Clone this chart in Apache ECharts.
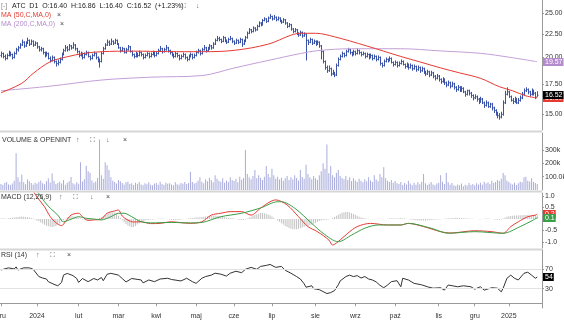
<!DOCTYPE html>
<html>
<head>
<meta charset="utf-8">
<script src="https://cdn.jsdelivr.net/npm/echarts@6/dist/echarts.min.js"></script>
<style>
html,body{margin:0;padding:0;background:#fff}
#chart{width:564px;height:322px}
</style>
</head>
<body>
<div id="chart"></div>
<script>
// ---- session calendar (GPW) ----
const firstDay = '2023-12-01';
const lastDay = '2025-01-24';
const holidays = ['2023-12-25','2023-12-26','2024-01-01','2024-03-29','2024-04-01','2024-05-01','2024-05-03',
  '2024-05-30','2024-08-15','2024-11-01','2024-11-11','2024-12-24','2024-12-25','2024-12-26','2024-12-31',
  '2025-01-01','2025-01-06'];
const monthNames = ['sty','lut','mar','kwi','maj','cze','lip','sie','wrz','paź','lis','gru'];

// ---- ATC daily bars: [open, high, low, close] ----
const ohlc = [
  [20.2,20.6,20.0,20.4],[20.4,20.5,19.9,20.1],[20.1,20.3,19.7,19.9],[19.9,20.4,19.8,20.2],[20.2,20.7,20.1,20.5],
  [20.5,20.6,20.1,20.3],[20.3,20.4,19.8,20.0],[20.0,20.6,19.9,20.4],[20.4,21.0,20.3,20.8],[20.8,21.2,20.6,21.0],
  // 10
  [21.0,21.5,20.9,21.3],[21.3,21.9,21.2,21.6],[21.6,21.7,21.0,21.2],[21.2,21.7,21.1,21.5],[21.5,22.1,21.4,21.8],
  [21.8,21.9,21.2,21.4],[21.4,21.9,21.3,21.7],[21.7,21.8,21.1,21.3],[21.3,21.7,21.2,21.5],[21.5,21.6,20.9,21.1],
  // 20
  [21.1,21.2,20.6,20.8],[20.8,21.1,20.6,20.9],[20.9,21.0,20.3,20.5],[20.5,20.6,20.0,20.2],[20.2,20.6,20.1,20.4],
  [20.4,20.5,19.8,19.9],[19.9,20.1,19.5,19.7],[19.7,20.2,19.6,20.0],[20.0,20.1,19.4,19.6],[19.6,19.7,19.1,19.4],
  // 30
  [19.4,19.8,19.2,19.5],[19.5,20.0,19.4,19.8],[19.8,20.5,19.7,20.3],[20.3,20.9,20.2,20.7],[20.7,21.3,20.6,21.0],
  [21.0,21.2,20.6,20.8],[20.8,21.4,20.7,21.2],[21.2,21.3,20.8,21.0],[21.0,21.6,20.9,21.3],[21.3,21.4,20.7,20.9],
  // 40
  [20.9,21.0,20.4,20.6],[20.6,20.7,20.0,20.2],[20.2,20.6,20.1,20.4],[20.4,20.5,19.8,20.0],[20.0,20.5,19.9,20.3],
  [20.3,20.7,20.2,20.5],[20.5,20.6,20.0,20.1],[20.1,20.2,19.7,19.9],[19.9,20.4,19.8,20.2],[20.2,20.6,20.1,20.4],
  // 50
  [20.4,20.5,19.8,20.0],[20.0,20.1,19.5,19.7],[19.7,19.9,19.0,19.6],[19.6,20.6,19.5,20.4],[20.4,21.1,20.3,20.9],
  [20.9,21.5,20.8,21.3],[21.3,21.9,21.2,21.6],[21.6,21.8,21.2,21.4],[21.4,22.0,21.3,21.7],[21.7,21.8,21.3,21.5],
  // 60
  [21.5,22.0,21.4,21.8],[21.8,21.9,21.3,21.4],[21.4,21.5,20.9,21.0],[21.0,21.1,20.5,20.7],[20.7,21.1,20.6,20.9],
  [20.9,21.0,20.4,20.5],[20.5,21.0,20.4,20.8],[20.8,21.3,20.7,21.1],[21.1,21.2,20.5,20.6],[20.6,20.7,20.1,20.3],
  // 70
  [20.3,20.4,19.9,20.1],[20.1,20.6,20.0,20.4],[20.4,20.5,20.0,20.2],[20.2,20.7,20.1,20.5],[20.5,20.6,20.1,20.3],
  [20.3,20.4,19.8,20.0],[20.0,20.4,19.9,20.2],[20.2,20.6,20.1,20.4],[20.4,20.5,19.9,20.1],[20.1,20.5,20.0,20.3],
  // 80
  [20.3,20.7,20.2,20.5],[20.5,20.6,20.0,20.2],[20.2,20.6,20.1,20.4],[20.4,20.9,20.3,20.7],[20.7,21.2,20.6,20.9],
  [20.9,21.0,20.4,20.6],[20.6,21.0,20.5,20.8],[20.8,21.3,20.7,21.0],[21.0,21.1,20.5,20.7],[20.7,20.8,20.3,20.5],
  // 90
  [20.5,20.6,20.1,20.3],[20.3,20.4,19.9,20.1],[20.1,20.6,20.0,20.4],[20.4,20.5,20.0,20.2],[20.2,20.3,19.7,19.9],
  [19.9,20.3,19.8,20.1],[20.1,20.5,20.0,20.3],[20.3,20.4,19.8,20.0],[20.0,20.1,19.6,19.8],[19.8,20.3,19.7,20.1],
  // 100
  [20.1,20.5,20.0,20.3],[20.3,20.4,19.8,20.0],[20.0,20.4,19.9,20.2],[20.2,20.7,20.1,20.5],[20.5,20.9,20.4,20.7],
  [20.7,20.8,20.2,20.4],[20.4,21.0,20.3,20.8],[20.8,21.3,20.7,21.0],[21.0,21.1,20.5,20.7],[20.7,21.1,20.6,20.9],
  // 110
  [20.9,21.4,20.8,21.2],[21.2,21.3,20.8,21.0],[21.0,21.6,20.9,21.4],[21.4,22.0,21.3,21.8],[21.8,22.3,21.7,22.0],
  [22.0,22.2,21.7,21.9],[21.9,22.0,21.5,21.7],[21.7,22.3,21.6,22.1],[22.1,22.2,21.6,21.8],[21.8,21.9,21.4,21.6],
  // 120
  [21.6,22.1,21.5,21.9],[21.9,22.3,21.8,22.0],[22.0,22.1,21.5,21.7],[21.7,21.8,21.3,21.5],[21.5,22.0,21.4,21.8],
  [21.8,21.9,21.4,21.6],[21.6,22.1,21.5,21.9],[21.9,22.0,21.1,21.4],[21.4,21.9,21.3,21.7],[21.7,22.3,21.6,22.1],
  // 130
  [22.1,22.8,22.0,22.6],[22.6,23.2,22.5,23.0],[23.0,23.1,22.6,22.8],[22.8,23.4,22.7,23.2],[23.2,23.3,22.8,23.0],
  [23.0,23.6,22.9,23.4],[23.4,24.0,23.3,23.8],[23.8,23.9,23.4,23.6],[23.6,24.3,23.5,24.1],[24.1,24.5,24.0,24.3],
  // 140
  [24.3,24.4,23.8,24.0],[24.0,24.6,23.9,24.4],[24.4,24.9,24.3,24.6],[24.6,24.7,24.1,24.3],[24.3,24.8,24.2,24.5],
  [24.5,24.6,24.0,24.2],[24.2,24.6,24.1,24.4],[24.4,24.5,23.9,24.1],[24.1,24.2,23.7,23.9],[23.9,24.4,23.8,24.2],
  // 150
  [24.2,24.3,23.6,23.8],[23.8,23.9,23.2,23.4],[23.4,23.8,23.3,23.6],[23.6,23.7,22.9,23.1],[23.1,23.2,22.6,22.8],
  [22.8,23.2,22.7,23.0],[23.0,23.1,22.4,22.6],[22.6,22.7,22.2,22.4],[22.4,22.9,22.3,22.7],[22.7,22.8,22.1,22.3],
  // 160
  [22.3,22.7,22.2,22.5],[22.5,22.6,19.7,21.8],[21.8,21.9,21.3,21.6],[21.6,22.1,21.5,21.9],[21.9,22.0,21.3,21.5],
  [21.5,21.9,21.4,21.7],[21.7,21.8,21.2,21.4],[21.4,21.8,21.3,21.6],[21.6,21.7,21.0,21.2],[21.2,21.3,19.8,20.6],
  // 170
  [20.6,20.7,19.4,19.6],[19.6,19.7,18.8,19.0],[19.0,19.2,18.5,18.7],[18.7,19.2,18.6,18.9],[18.9,19.0,18.2,18.4],
  [18.4,18.8,18.3,18.5],[18.5,18.6,18.1,18.3],[18.3,19.4,18.2,19.2],[19.2,20.0,19.1,19.8],[19.8,20.3,19.7,20.1],
  // 180
  [20.1,20.6,20.0,20.4],[20.4,20.5,20.0,20.2],[20.2,20.8,20.1,20.6],[20.6,21.0,20.5,20.8],[20.8,20.9,20.3,20.5],
  [20.5,20.6,20.1,20.3],[20.3,20.8,20.2,20.6],[20.6,20.7,20.2,20.4],[20.4,20.9,20.3,20.7],[20.7,20.8,20.3,20.5],
  // 190
  [20.5,20.6,20.1,20.3],[20.3,20.6,20.2,20.4],[20.4,20.5,19.9,20.1],[20.1,20.5,20.0,20.3],[20.3,20.4,19.8,20.0],
  [20.0,20.4,19.9,20.2],[20.2,20.3,19.7,19.9],[19.9,20.3,19.8,20.1],[20.1,20.2,19.6,19.8],[19.8,20.2,19.7,20.0],
  // 200
  [20.0,20.1,19.2,19.4],[19.4,19.5,19.0,19.2],[19.2,19.8,19.1,19.6],[19.6,20.0,19.5,19.8],[19.8,19.9,19.5,19.7],
  [19.7,20.1,19.6,19.9],[19.9,20.0,19.4,19.5],[19.5,19.6,19.1,19.3],[19.3,19.7,19.2,19.5],[19.5,19.6,19.0,19.2],
  // 210
  [19.2,19.6,19.1,19.4],[19.4,19.8,19.3,19.6],[19.6,19.7,19.2,19.3],[19.3,19.4,18.9,19.1],[19.1,19.5,19.0,19.3],
  [19.3,19.4,18.8,19.0],[19.0,19.4,18.9,19.2],[19.2,19.3,18.7,18.9],[18.9,19.3,18.8,19.1],[19.1,19.2,18.6,18.8],
  // 220
  [18.8,19.2,18.7,19.0],[19.0,19.1,18.5,18.7],[18.7,19.1,18.6,18.9],[18.9,19.0,18.4,18.6],[18.6,18.7,18.2,18.4],
  [18.4,18.8,18.3,18.6],[18.6,18.7,18.1,18.3],[18.3,18.7,18.2,18.5],[18.5,18.6,18.0,18.2],[18.2,18.3,17.8,18.0],
  // 230
  [18.0,18.4,17.9,18.2],[18.2,18.3,17.7,17.9],[17.9,18.0,17.5,17.7],[17.7,18.1,17.6,17.9],[17.9,18.0,17.4,17.6],
  [17.6,17.7,17.2,17.4],[17.4,17.8,17.3,17.6],[17.6,17.7,17.1,17.3],[17.3,17.7,17.2,17.5],[17.5,17.6,17.0,17.2],
  // 240
  [17.2,17.3,16.8,17.0],[17.0,17.4,16.9,17.2],[17.2,17.3,16.8,16.9],[16.9,17.3,16.8,17.1],[17.1,17.2,16.7,16.8],
  [16.8,16.9,16.4,16.6],[16.6,17.0,16.5,16.9],[16.9,17.0,16.5,16.7],[16.7,16.8,16.3,16.5],[16.5,16.6,16.1,16.3],
  // 250
  [16.3,16.6,16.2,16.4],[16.4,16.5,16.0,16.2],[16.2,16.3,15.8,16.0],[16.0,16.4,15.9,16.2],[16.2,16.3,15.8,15.9],
  [15.9,16.0,15.5,15.7],[15.7,16.1,15.6,15.9],[15.9,16.0,15.5,15.6],[15.6,15.9,15.5,15.8],[15.8,15.9,15.3,15.5],
  // 260
  [15.5,15.6,15.1,15.3],[15.3,15.4,14.9,15.1],[15.1,15.2,14.7,14.9],[14.9,15.1,14.6,14.8],[14.8,15.2,14.7,15.0],
  [15.0,16.1,14.9,15.9],[15.9,16.9,15.8,16.6],[16.6,17.2,16.5,16.8],[16.8,16.9,16.3,16.4],[16.4,16.5,16.0,16.1],
  // 270
  [16.1,16.3,15.8,16.0],[16.0,16.4,15.9,16.2],[16.2,16.3,15.8,15.9],[15.9,16.3,15.8,16.1],[16.1,16.5,16.0,16.3],
  [16.3,16.8,16.2,16.6],[16.6,17.1,16.5,16.9],[16.9,17.2,16.8,17.0],[17.0,17.1,16.6,16.8],[16.8,16.9,16.4,16.6],
  // 280
  [16.6,17.1,16.5,16.9],[16.9,17.0,16.5,16.7],[16.7,16.8,16.2,16.32],[16.40,16.86,16.40,16.52]
];

// ---- moving averages: [session index, value] ----
const ma50 = [[0,16.73],[11,17.55],[17,18.45],[26,19.57],[35,20.07],[44,20.42],[53,20.59],[70,20.65],[88,20.6],
  [106,20.59],[123,20.73],[141,21.39],[153,22.38],[158,22.6],[166,22.6],[176,22.2],[193,21.2],[211,20.1],
  [221,19.56],[232,18.97],[242,18.5],[253,18.0],[263,17.25],[270,16.9],[277,16.47],[283,16.3]];
const ma200 = [[0,16.9],[26,17.3],[53,17.84],[79,18.1],[106,18.25],[123,18.96],[141,19.7],[158,20.4],[167,20.7],
  [185,20.9],[211,20.9],[232,20.67],[253,20.42],[269,20.0],[283,19.57]];

// ---- volume, thousands of shares ----
const volume = [
  45,38,52,60,41,35,48,70,276,95, 62,116,58,44,80,66,52,40,55,47,
  60,72,50,43,65,88,56,124,70,45, 52,61,48,75,40,55,66,98,50,42,
  58,47,208,63,80,182,140,130,72,55, 64,90,378,110,85,208,185,149,95,70,
  60,48,75,66,52,40,58,62,45,50, 38,55,47,60,42,36,50,44,58,40,
  35,48,52,40,62,45,38,55,47,50, 42,36,58,44,40,53,47,60,45,52,
  136,60,48,55,70,95,62,50,80,66, 92,75,58,110,85,70,62,88,54,72,
  60,95,75,68,82,58,100,76,90,300, 120,95,80,105,150,88,110,92,75,100,
  180,120,95,160,110,85,100,78,92,70, 88,105,75,95,80,110,90,72,150,98,
  85,190,120,95,80,105,88,75,110,140, 200,160,340,125,180,110,95,130,150,105,
  90,80,105,75,95,68,88,72,60,85, 70,58,80,65,95,72,60,110,78,66,
  120,95,170,88,70,60,75,55,68,50, 45,60,38,52,42,70,48,35,55,40,
  58,44,62,120,50,38,46,60,42,35, 48,55,110,62,45,130,58,40,52,36,
  30,42,35,48,28,40,33,52,38,45, 36,50,42,55,40,62,48,58,45,70,
  55,60,75,68,85,128,110,72,60,48, 42,55,38,50,62,58,95,100,70,64,
  88,60,52,45
];

// ---- MACD (12,26,9) ----
const macdLine = [[0,1.5],[5,1.48],[11,1.45],[16,1.3],[19,0.96],[23,0.53],[26,0.1],[29,-0.16],[32,-0.29],[34,-0.12],
  [37,0.17],[41,0.25],[43,0.1],[46,-0.06],[49,-0.04],[53,0.0],[56,0.25],[60,0.35],[62,0.39],[64,0.13],[67,-0.05],
  [70,-0.13],[74,-0.12],[79,-0.2],[84,-0.19],[90,-0.12],[95,-0.16],[100,-0.19],[106,-0.12],[111,0.17],[116,0.25],
  [121,0.32],[127,0.32],[132,0.17],[137,0.47],[142,0.75],[145,0.83],[151,0.61],[157,0.1],[162,-0.33],[167,-0.55],
  [173,-0.91],[175,-1.13],[179,-0.91],[183,-0.62],[188,-0.33],[195,-0.19],[204,-0.26],[211,-0.26],[215,-0.19],
  [223,-0.33],[232,-0.55],[237,-0.61],[250,-0.51],[259,-0.55],[265,-0.62],[269,-0.33],[273,-0.12],[278,0.1],
  [282,0.17],[283,0.22]];
const signalLine = [[0,1.42],[5,1.42],[11,1.38],[16,1.3],[19,1.2],[23,0.75],[26,0.47],[30,0.17],[33,-0.12],[37,-0.01],
  [41,0.1],[45,0.03],[49,0.0],[53,-0.04],[58,0.1],[62,0.25],[65,0.25],[69,0.1],[74,-0.12],[79,-0.17],[90,-0.15],
  [100,-0.17],[106,-0.15],[116,0.1],[127,0.25],[137,0.48],[146,0.75],[148,0.75],[155,0.47],[164,-0.19],[170,-0.62],
  [178,-0.99],[185,-0.7],[192,-0.4],[199,-0.26],[211,-0.26],[215,-0.19],[227,-0.4],[236,-0.62],[250,-0.55],
  [265,-0.62],[274,-0.33],[281,-0.04],[283,0.06]];
const macdHist = [
  0.02,0.03,0.02,0.01,0.03,0.04,0.05,0.06,0.08,0.09, 0.1,0.11,0.1,0.09,0.08,0.06,0.04,0.02,-0.02,-0.06,
  -0.1,-0.15,-0.2,-0.25,-0.29,-0.32,-0.34,-0.35,-0.34,-0.3, -0.25,-0.19,-0.12,-0.05,0.02,0.07,0.1,0.12,0.12,0.1,
  0.08,0.05,0.02,-0.01,-0.03,-0.04,-0.04,-0.03,-0.02,-0.01, 0.0,0.02,0.04,0.08,0.13,0.18,0.22,0.26,0.28,0.29,
  0.27,0.22,0.14,0.05,-0.05,-0.14,-0.22,-0.28,-0.33,-0.36, -0.35,-0.3,-0.24,-0.18,-0.13,-0.09,-0.06,-0.04,-0.03,-0.02,
  -0.02,-0.01,0.0,0.01,0.02,0.02,0.01,0.0,-0.01,-0.02, -0.03,-0.04,-0.04,-0.03,-0.03,-0.02,-0.01,0.0,0.01,0.02,
  0.03,0.04,0.05,0.06,0.07,0.08,0.09,0.1,0.11,0.12, 0.13,0.14,0.15,0.15,0.14,0.13,0.12,0.1,0.08,0.06,
  0.05,0.04,0.03,0.02,0.0,-0.02,-0.03,-0.04,-0.03,-0.01, 0.02,0.06,0.1,0.14,0.18,0.21,0.24,0.26,0.26,0.25,
  0.23,0.2,0.16,0.11,0.05,0.0,-0.06,-0.12,-0.18,-0.24, -0.3,-0.35,-0.39,-0.42,-0.44,-0.45,-0.44,-0.42,-0.4,-0.37,
  -0.34,-0.32,-0.3,-0.27,-0.24,-0.2,-0.16,-0.12,-0.09,-0.06, -0.04,-0.03,-0.03,-0.02,0.0,0.04,0.09,0.14,0.19,0.23,
  0.27,0.29,0.3,0.3,0.28,0.25,0.22,0.18,0.14,0.1, 0.07,0.05,0.03,0.02,0.01,0.0,-0.01,-0.01,0.0,0.01,
  0.01,0.0,-0.01,0.0,0.01,0.02,0.03,0.03,0.02,0.02, 0.03,0.04,0.03,0.02,0.01,0.0,-0.02,-0.03,-0.04,-0.05,
  -0.06,-0.06,-0.07,-0.07,-0.06,-0.05,-0.05,-0.04,-0.03,-0.03, -0.02,-0.02,-0.01,0.0,0.01,0.02,0.03,0.03,0.04,0.04,
  0.05,0.05,0.04,0.04,0.03,0.03,0.02,0.02,0.01,0.01, 0.0,0.0,-0.01,-0.01,0.0,0.01,0.02,0.02,0.01,0.0,
  -0.01,-0.02,-0.03,-0.03,-0.02,0.02,0.06,0.1,0.12,0.13, 0.14,0.15,0.15,0.15,0.16,0.16,0.17,0.17,0.17,0.16,
  0.16,0.17,0.17,0.16
];

// ---- RSI (14) ----
const rsi = [[0,68.6],[4,73],[7,70.6],[8,75],[9,68.5],[12,73],[13,70],[15,73],[17,70],[18,67],[20,55],[22,52],[24,50],
  [25,44.5],[28,39],[30,36],[32,43],[33,58],[35,61.5],[38,57],[40,51],[41,43],[43,51],[46,44.5],[49,51],[51,48],
  [53,53],[54,46.5],[56,59.7],[58,61.7],[62,58],[64,51],[66,44],[69,51],[70,51],[74,48],[75,42],[78,48],[81,44.5],
  [84,50],[88,51.5],[90,49],[95,46],[98,51.5],[101,44.5],[103,41],[106,51.5],[108,55],[111,58],[113,62],[116,60],
  [119,56],[121,62],[124,66],[127,63],[129,70],[132,74],[135,70],[137,76],[140,78],[142,80],[145,74],[148,76],
  [150,68],[153,62],[156,55],[158,50],[160,40],[161,33],[164,36],[165,30],[168,28],[170,24],[172,20],[174,22],
  [176,26],[178,38],[179,46],[182,55],[184,58],[186,55],[188,57],[190,52],[192,55],[194,50],[196,48],[198,44],
  [200,37],[202,32],[204,37.6],[206,44.5],[207,48],[209,46.5],[211,34],[212,51.5],[215,48],[218,41],[222,38],
  [225,34],[228,31],[232,32],[234,27],[236,37.6],[237,38.5],[241,34],[244,36],[248,34],[250,29],[253,34],[255,27],
  [259,32],[262,31],[264,23.5],[265,31],[267,51.5],[269,58],[271,51.5],[273,48],[274,51.5],[276,61.7],[278,64],
  [280,58],[281,59.7],[282,51.5],[283,54]];

// ---- axis ticks ----
const priceTicks = [15, 17.5, 20, 22.5, 25];
const volumeTicks = [100, 200, 300];
const volumeTickLabels = ['100.0k', '200k', '300k'];
const macdTicks = [-1, -0.5, 0.5, 1];
const macdTickLabels = ['-1.0', '-0.5', '0.5', '1.0'];
const rsiTicks = [30, 70];

// ---- build session list ----
const tradingDays = [];
(function () {
  const off = new Set(holidays);
  const d = new Date(firstDay + 'T00:00:00Z');
  const end = new Date(lastDay + 'T00:00:00Z');
  while (d <= end) {
    const wd = d.getUTCDay();
    const s = d.toISOString().slice(0, 10);
    if (wd !== 0 && wd !== 6 && !off.has(s)) tradingDays.push(s);
    d.setUTCDate(d.getUTCDate() + 1);
  }
})();
const categories = tradingDays.concat(['', '']);   // small right margin after the last session
const monthStart = new Set();
tradingDays.forEach((s, i) => {
  if (i === 0 || s.slice(5, 7) !== tradingDays[i - 1].slice(5, 7)) monthStart.add(i);
});
const isMonthStart = (i) => monthStart.has(i);
const monthLabel = (v) => {
  if (!v) return '';
  const m = +v.slice(5, 7);
  return m === 1 ? v.slice(0, 4) : monthNames[m - 1];
};

const FONT = '"Liberation Sans", Arial, sans-serif';
const AXIS = '#9a9a9a';
const BAR = '#3b53a6';
const RED = '#e53b33';
const PURPLE = '#c39fd8';
const PURPLE_TEXT = '#b48bcd';
const GREEN = '#3a9e48';

const chart = echarts.init(document.getElementById('chart'), null, { renderer: 'canvas' });

const grids = [
  { left: 0, right: 22, top: 0, height: 130, outerBoundsMode: 'none', containLabel: false },
  { left: 0, right: 22, top: 133, height: 57, outerBoundsMode: 'none', containLabel: false },
  { left: 0, right: 22, top: 193, height: 55, outerBoundsMode: 'none', containLabel: false },
  { left: 0, right: 22, top: 250, height: 58, outerBoundsMode: 'none', containLabel: false }
];

function yAxisBase(k, extra) {
  return Object.assign({
    gridIndex: k, position: 'right',
    axisLine: { show: true, lineStyle: { color: AXIS } },
    splitLine: { show: false }
  }, extra);
}

const option = {
  animation: false,
  textStyle: { fontFamily: FONT },
  grid: grids,
  xAxis: [0, 1, 2, 3].map(k => ({
    type: 'category', gridIndex: k, data: categories, boundaryGap: true, show: k === 3,
    axisLine: { show: true, lineStyle: { color: AXIS } },
    axisTick: { show: true, alignWithLabel: true, interval: isMonthStart, length: 3, lineStyle: { color: AXIS } },
    axisLabel: { interval: isMonthStart, formatter: monthLabel, fontSize: 7, color: '#333', margin: 5, fontFamily: FONT },
    splitLine: { show: false }
  })),
  yAxis: [
    yAxisBase(0, {
      type: 'log', logBase: 10, min: 13.86, max: 26.74,
      axisTick: { show: true, customValues: priceTicks, length: 2, lineStyle: { color: AXIS } },
      axisLabel: { customValues: priceTicks, formatter: v => v.toFixed(2), fontSize: 7, color: '#333', margin: 3, fontFamily: FONT }
    }),
    yAxisBase(1, {
      type: 'value', min: 0, max: 427,
      axisTick: { show: true, customValues: volumeTicks, length: 2, lineStyle: { color: AXIS } },
      axisLabel: { customValues: volumeTicks, formatter: v => volumeTickLabels[volumeTicks.indexOf(v)] || '',
        fontSize: 7, color: '#333', margin: 3, fontFamily: FONT }
    }),
    yAxisBase(2, {
      type: 'value', min: -1.26, max: 1.13,
      axisTick: { show: true, customValues: macdTicks, length: 2, lineStyle: { color: AXIS } },
      axisLabel: { customValues: macdTicks, formatter: v => macdTickLabels[macdTicks.indexOf(v)] || '',
        fontSize: 7, color: '#333', margin: 3, fontFamily: FONT }
    }),
    yAxisBase(3, {
      type: 'value', min: -9.8, max: 109.8,
      axisTick: { show: true, customValues: rsiTicks, length: 2, lineStyle: { color: AXIS } },
      axisLabel: { customValues: rsiTicks, formatter: v => String(v), fontSize: 7, color: '#333', margin: 3, fontFamily: FONT }
    })
  ],
  series: [
    {
      name: 'ATC', type: 'custom', xAxisIndex: 0, yAxisIndex: 0, z: 2, clip: true,
      data: ohlc.map((r, i) => [i, r[0], r[1], r[2], r[3]]),
      encode: { x: 0, y: [1, 2, 3, 4] },
      renderItem: (params, api) => {
        const i = api.value(0);
        const pO = api.coord([i, api.value(1)]);
        const pH = api.coord([i, api.value(2)]);
        const pL = api.coord([i, api.value(3)]);
        const pC = api.coord([i, api.value(4)]);
        const cx = Math.round(pH[0]) + 0.5;
        const st = { stroke: BAR, lineWidth: 1 };
        return {
          type: 'group', children: [
            { type: 'line', shape: { x1: cx, y1: pH[1], x2: cx, y2: pL[1] }, style: st },
            { type: 'line', shape: { x1: cx - 1, y1: pO[1], x2: cx, y2: pO[1] }, style: st },
            { type: 'line', shape: { x1: cx, y1: pC[1], x2: cx + 1, y2: pC[1] }, style: st }
          ]
        };
      }
    },
    { name: 'MA200', type: 'line', xAxisIndex: 0, yAxisIndex: 0, z: 3, data: ma200, smooth: 0.35,
      showSymbol: false, lineStyle: { color: PURPLE, width: 1 } },
    { name: 'MA50', type: 'line', xAxisIndex: 0, yAxisIndex: 0, z: 3, data: ma50, smooth: 0.35,
      showSymbol: false, lineStyle: { color: RED, width: 1 } },
    { name: 'Volume', type: 'bar', xAxisIndex: 1, yAxisIndex: 1, data: volume, barWidth: 1,
      itemStyle: { color: '#a9acdc' } },
    { name: 'Histogram', type: 'bar', xAxisIndex: 2, yAxisIndex: 2, data: macdHist, barWidth: 1,
      itemStyle: { color: '#c2c2c2' } },
    { name: 'MACD', type: 'line', xAxisIndex: 2, yAxisIndex: 2, data: macdLine, smooth: 0.3,
      showSymbol: false, lineStyle: { color: RED, width: 1 } },
    { name: 'Signal', type: 'line', xAxisIndex: 2, yAxisIndex: 2, data: signalLine, smooth: 0.3,
      showSymbol: false, lineStyle: { color: GREEN, width: 1 } },
    { name: 'RSI', type: 'line', xAxisIndex: 3, yAxisIndex: 3, data: rsi, showSymbol: false,
      lineStyle: { color: '#333', width: 1 },
      markLine: { silent: true, symbol: 'none', label: { show: false },
        lineStyle: { color: '#e2e2e2', type: 'solid', width: 1 },
        data: rsiTicks.map(v => ({ yAxis: v })) } }
  ]
};
chart.setOption(option);

// ---- panel headers, separators and last-value tags ----
const last = ohlc[ohlc.length - 1];
const prevClose = ohlc[ohlc.length - 2][3];
const pct = (last[3] / prevClose - 1) * 100;
const title = 'ATC  D1  O:' + last[0].toFixed(2) + '  H:' + last[1].toFixed(2) + '  L:' + last[2].toFixed(2) +
  '  C:' + last[3].toFixed(2) + '  (' + (pct >= 0 ? '+' : '') + pct.toFixed(2) + '%)';

function txt(x, y, text, color) {
  return { type: 'text', x: x, y: y, z: 50, silent: true,
    style: { text: text, fill: color, font: '7px ' + FONT, verticalAlign: 'middle' } };
}
function sep(y) {
  return { type: 'rect', z: 40, silent: true, shape: { x: 0, y: y, width: 542, height: 2 }, style: { fill: '#d6d6d6' } };
}
function tag(axis, value, text, bg, z) {
  const y = chart.convertToPixel({ yAxisIndex: axis }, value);
  return { type: 'text', x: 543, y: Math.round(y), z: z, silent: true,
    style: { text: text, fill: '#fff', backgroundColor: bg, padding: [1, 1, 0, 2], font: '7px ' + FONT, verticalAlign: 'middle' } };
}

const ICON = '#666';
const lastMa50 = ma50[ma50.length - 1][1];
const lastMa200 = ma200[ma200.length - 1][1];
const lastMacd = macdLine[macdLine.length - 1][1];
const lastSignal = signalLine[signalLine.length - 1][1];
const lastRsi = rsi[rsi.length - 1][1];

chart.setOption({
  graphic: [
    sep(130.5), sep(190.5), sep(248.5),
    txt(1, 6, '[-]', '#888'), txt(12, 6, title, '#222'), txt(181, 6, '⛶', ICON), txt(196, 6, '↓', ICON),
    txt(1, 15, 'MA (50,C,MA,0)', RED), txt(57, 15, '×', '#444'),
    txt(1, 24, 'MA (200,C,MA,0)', PURPLE_TEXT), txt(60, 24, '×', '#444'),
    txt(2, 140, 'VOLUME & OPENINT', '#333'), txt(76, 140, '↑', ICON), txt(90, 140, '⛶', ICON),
    txt(106, 140, '↓', ICON), txt(123, 140, '×', '#444'),
    txt(1, 197, 'MACD (12,26,9)', '#333'), txt(59, 197, '↑', ICON), txt(73, 197, '⛶', ICON),
    txt(90, 197, '↓', ICON), txt(106, 197, '×', '#444'),
    txt(1, 255, 'RSI (14)', '#333'), txt(36, 255, '↑', ICON), txt(50, 255, '⛶', ICON), txt(67, 255, '×', '#444'),
    tag(0, lastMa200, lastMa200.toFixed(2), PURPLE_TEXT, 60),
    tag(0, lastMa50, lastMa50.toFixed(2), RED, 61),
    tag(0, last[3], last[3].toFixed(2), '#000', 62),
    tag(2, lastMacd, lastMacd.toFixed(1), RED, 60),
    tag(2, lastSignal, lastSignal.toFixed(1), GREEN, 61),
    tag(3, lastRsi, String(Math.round(lastRsi)), '#000', 60)
  ]
});
</script>
</body>
</html>
